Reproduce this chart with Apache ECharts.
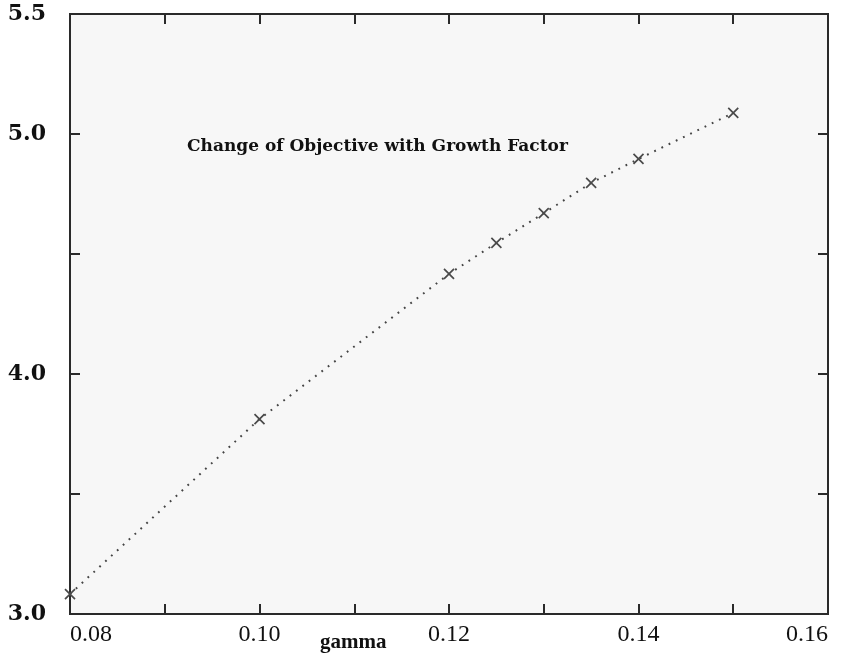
<!DOCTYPE html>
<html>
<head>
<meta charset="utf-8">
<script src="https://cdn.jsdelivr.net/npm/echarts@6/dist/echarts.min.js"></script>
<style>html,body{margin:0;padding:0;background:#fff}#c{width:853px;height:659px}</style>
</head>
<body>
<div id="c"></div>
<script>
const titleText = 'Change of Objective with Growth Factor';
const xName = 'gamma';
const gammaValues = [0.08, 0.10, 0.12, 0.125, 0.13, 0.135, 0.14, 0.15];
const objectiveValues = [3.083, 3.812, 4.417, 4.546, 4.67, 4.796, 4.896, 5.088];
const xLabelsShown = ['0.08', '0.10', '0.12', '0.14', '0.16'];
const yLabelsShown = ['3.0', '4.0', '5.0', '5.5'];

const chart = echarts.init(document.getElementById('c'));
const points = gammaValues.map((g, i) => [g, objectiveValues[i]]);
const axisLineStyle = { color: '#2a2a2a', width: 2 };
const option = {
  backgroundColor: '#ffffff',
  animation: false,
  title: {
    text: titleText,
    left: 182, top: 133,
    textStyle: { fontFamily: 'DejaVu Serif', fontWeight: 'bold', fontSize: 17, color: '#111' }
  },
  grid: {
    left: 70, right: 25, top: 14, bottom: 45,
    show: true, backgroundColor: '#f7f7f7', borderColor: '#2a2a2a', borderWidth: 2
  },
  xAxis: [{
    type: 'value', min: 0.08, max: 0.16, interval: 0.01,
    axisLine: { show: true, lineStyle: axisLineStyle },
    axisTick: { show: true, inside: true, length: 10, lineStyle: { color: '#2a2a2a', width: 2 } },
    splitLine: { show: false },
    axisLabel: {
      margin: 9, fontFamily: 'Liberation Serif', fontSize: 24, color: '#111',
      alignMinLabel: 'left', alignMaxLabel: 'right',
      formatter: v => { const s = v.toFixed(2); return xLabelsShown.includes(s) ? s : ''; }
    }
  }, {
    type: 'value', position: 'top', min: 0.08, max: 0.16, interval: 0.01,
    axisLine: { show: true, lineStyle: axisLineStyle },
    axisTick: { show: true, inside: true, length: 10, lineStyle: { color: '#2a2a2a', width: 2 } },
    splitLine: { show: false }, axisLabel: { show: false }
  }],
  yAxis: [{
    type: 'value', min: 3.0, max: 5.5, interval: 0.5,
    axisLine: { show: true, lineStyle: axisLineStyle },
    axisTick: { show: true, inside: true, length: 10, lineStyle: { color: '#2a2a2a', width: 2 } },
    splitLine: { show: false },
    axisLabel: {
      margin: 24, fontFamily: 'DejaVu Serif', fontWeight: 'bold', fontSize: 22, color: '#111',
      formatter: v => { const s = v.toFixed(1); return yLabelsShown.includes(s) ? s : ''; }
    }
  }, {
    type: 'value', position: 'right', min: 3.0, max: 5.5, interval: 0.5,
    axisLine: { show: true, lineStyle: axisLineStyle },
    axisTick: { show: true, inside: true, length: 10, lineStyle: { color: '#2a2a2a', width: 2 } },
    splitLine: { show: false }, axisLabel: { show: false }
  }],
  graphic: [{
    type: 'text', left: 320, top: 632,
    style: { text: xName, fontFamily: 'Liberation Serif', fontWeight: 'bold', fontSize: 21, fill: '#111' }
  }],
  series: [{
    type: 'line',
    data: points,
    clip: false,
    symbol: 'path://M0,0L10,10M10,0L0,10',
    symbolSize: 10,
    itemStyle: { color: 'rgba(0,0,0,0)', borderColor: '#4a4a4a', borderWidth: 1.7 },
    lineStyle: { color: '#444', width: 2, type: [1.8, 6.2], cap: 'butt' }
  }]
};
chart.setOption(option);
</script>
</body>
</html>
